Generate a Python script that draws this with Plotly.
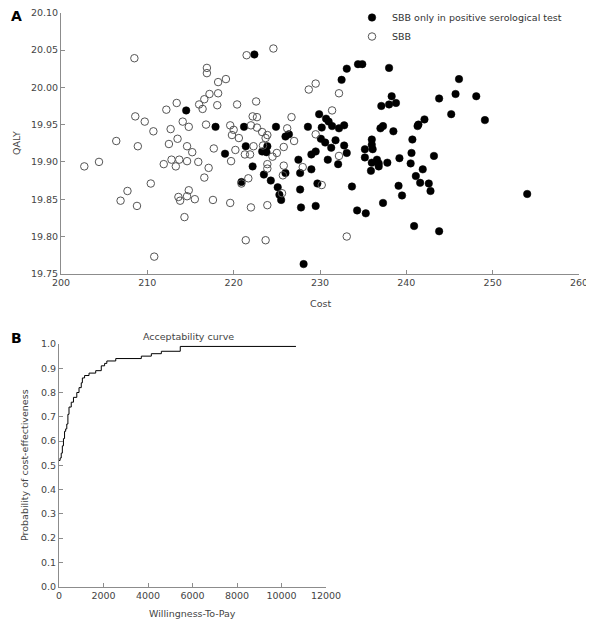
import plotly.graph_objects as go

# ---- Panel A: cost vs QALY ----
sbb_pos_cost = [214.5, 222.4, 217.9, 221.2, 224.9, 226.0, 226.4, 219.0, 221.4, 223.9, 223.3, 223.8,
                222.2, 223.5, 224.3, 220.9, 226.0, 225.1, 225.3, 225.5,
                234.4, 234.9, 233.1, 232.5, 228.6, 229.9, 230.7, 231.0, 231.4, 230.2, 232.2, 232.8,
                230.1, 230.6, 231.8, 231.3, 232.8, 233.1, 229.0, 229.5, 230.9, 232.1, 227.5,
                229.0, 227.7, 229.7, 233.7, 227.7, 227.8, 229.5, 234.3, 235.3, 228.1,
                238.0, 246.1, 238.3, 237.1, 238.0, 238.8, 243.8, 245.7, 248.1, 245.2, 249.1,
                237.0, 237.3, 238.5, 241.3, 241.4, 242.1, 236.0, 236.0, 236.1, 235.2, 235.2,
                240.7, 240.6, 240.5, 243.2, 236.6, 236.0, 236.8, 236.8, 237.8, 235.9, 239.2,
                241.1, 241.9, 239.1, 239.5, 241.6, 242.6, 242.8, 237.3, 240.9, 243.8, 254.0]
sbb_pos_qaly = [19.969, 20.044, 19.947, 19.947, 19.947, 19.934, 19.937, 19.911, 19.921, 19.921, 19.914, 19.913,
                19.894, 19.883, 19.875, 19.873, 19.885, 19.866, 19.856, 19.849,
                20.031, 20.031, 20.025, 20.010, 19.947, 19.964, 19.958, 19.954, 19.948, 19.946, 19.945, 19.949,
                19.931, 19.926, 19.929, 19.919, 19.922, 19.912, 19.910, 19.914, 19.903, 19.897, 19.903,
                19.890, 19.885, 19.871, 19.867, 19.863, 19.839, 19.841, 19.835, 19.831, 19.763,
                20.026, 20.011, 19.988, 19.975, 19.977, 19.979, 19.985, 19.991, 19.988, 19.964, 19.956,
                19.945, 19.948, 19.941, 19.948, 19.950, 19.957, 19.930, 19.923, 19.917, 19.917, 19.906,
                19.930, 19.912, 19.898, 19.908, 19.903, 19.899, 19.894, 19.898, 19.899, 19.888, 19.905,
                19.881, 19.890, 19.868, 19.855, 19.872, 19.871, 19.861, 19.845, 19.814, 19.807, 19.857]

sbb_cost = [208.5, 202.7, 204.4, 206.4, 208.6, 208.9, 209.7, 210.7, 207.7, 206.9, 208.8, 210.4,
            210.8, 212.2, 213.4, 216.0, 214.1, 214.8, 212.7, 213.5, 212.5, 214.6, 215.2, 212.8,
            213.7, 214.6, 211.9, 213.3, 215.9, 214.8, 213.6, 213.8, 214.6, 215.5, 214.3,
            221.5, 224.6, 216.9, 216.9, 218.2, 219.1, 217.2, 218.2, 216.6, 216.4, 218.1, 220.4,
            222.6, 216.8, 219.6, 220.0, 219.8, 220.6, 222.2, 222.7, 222.0, 222.7, 223.3, 223.9,
            223.7, 217.7, 220.2, 221.3, 221.9, 222.3, 223.4, 224.5, 225.0, 225.8, 219.7, 223.9,
            223.9, 225.8, 217.1, 216.6, 221.7, 220.9, 225.6, 217.6, 219.6, 222.0, 223.9, 221.4,
            223.7, 225.7, 229.5, 228.7, 232.2, 231.4, 226.7, 226.2, 229.5, 227.0, 232.2, 228.0,
            230.2, 233.1]
sbb_qaly = [20.039, 19.894, 19.900, 19.928, 19.961, 19.921, 19.954, 19.941, 19.861, 19.848, 19.841, 19.871,
            19.773, 19.970, 19.979, 19.977, 19.954, 19.947, 19.944, 19.931, 19.924, 19.921, 19.913, 19.903,
            19.903, 19.901, 19.897, 19.894, 19.900, 19.862, 19.853, 19.848, 19.854, 19.850, 19.826,
            20.043, 20.052, 20.026, 20.019, 20.007, 20.011, 19.991, 19.992, 19.984, 19.971, 19.976, 19.977,
            19.981, 19.950, 19.949, 19.943, 19.936, 19.932, 19.961, 19.960, 19.949, 19.946, 19.940, 19.936,
            19.932, 19.918, 19.916, 19.910, 19.910, 19.921, 19.922, 19.907, 19.912, 19.920, 19.901, 19.897,
            19.891, 19.895, 19.892, 19.879, 19.878, 19.871, 19.858, 19.849, 19.845, 19.839, 19.842, 19.795,
            19.795, 19.882, 20.005, 19.997, 19.992, 19.969, 19.960, 19.945, 19.937, 19.928, 19.908, 19.893,
            19.869, 19.800]

cost_ticks = [200, 210, 220, 230, 240, 250, 260]
qaly_ticks = [19.75, 19.80, 19.85, 19.90, 19.95, 20.00, 20.05, 20.10]

# ---- Panel B: acceptability curve ----
wtp = [0, 50, 100, 150, 200, 250, 300, 350, 400, 450, 550, 650, 800, 900, 1000, 1050, 1150,
       1350, 1650, 1900, 2050, 2150, 2550, 3700, 4150, 4600, 5450, 10650]
prob = [0.52, 0.53, 0.55, 0.58, 0.61, 0.64, 0.65, 0.67, 0.71, 0.74, 0.76, 0.78, 0.80, 0.82, 0.84,
        0.86, 0.87, 0.88, 0.89, 0.91, 0.92, 0.93, 0.94, 0.95, 0.96, 0.97, 0.99, 0.99]
wtp_ticks = [0, 2000, 4000, 6000, 8000, 10000, 12000]
prob_ticks = [0.0, 0.1, 0.2, 0.3, 0.4, 0.5, 0.6, 0.7, 0.8, 0.9, 1.0]

# page body has an 8px margin, so the figure is drawn 8px in from the window corner
OFF = 8
W, H = 594 - OFF, 623 - OFF
FONT = "DejaVu Sans"
AX = "#8c8c8c"
TXT = "#444444"

fig = go.Figure()
fig.add_trace(go.Scatter(x=sbb_pos_cost, y=sbb_pos_qaly, mode="markers",
                         name="SBB only in positive serological test",
                         marker=dict(symbol="circle", size=7.5, color="black",
                                     line=dict(color="black", width=0.5)),
                         xaxis="x", yaxis="y"))
fig.add_trace(go.Scatter(x=sbb_cost, y=sbb_qaly, mode="markers", name="SBB",
                         marker=dict(symbol="circle-open", size=7.5, color="#555555",
                                     line=dict(color="#555555", width=1)),
                         xaxis="x", yaxis="y"))
fig.add_trace(go.Scatter(x=wtp, y=prob, mode="lines", line=dict(color="black", width=1, shape="hv"),
                         showlegend=False, xaxis="x2", yaxis="y2"))

def px_x(p):
    return (p - OFF) / W

def px_y(p):
    return 1 - (p - OFF) / H

axcommon = dict(showgrid=False, zeroline=False, showline=True, linecolor=AX, linewidth=1,
                ticks="inside", ticklen=4, tickcolor=AX, tickwidth=1, automargin=False,
                ticklabeloverflow="allow",
                tickfont=dict(family=FONT, size=9.5, color=TXT))

fig.update_layout(
    width=W, height=H, margin=dict(l=0, r=0, t=0, b=0, autoexpand=False),
    paper_bgcolor="white", plot_bgcolor="white",
    font=dict(family=FONT, size=9.5, color=TXT),
    xaxis=dict(domain=[px_x(61), px_x(579)], range=[200, 260], tickvals=cost_ticks,
               anchor="y", **axcommon),
    yaxis=dict(domain=[px_y(273.8), px_y(12.7)], range=[19.75, 20.10], tickvals=qaly_ticks,
               tickformat=".2f", anchor="x", **axcommon),
    xaxis2=dict(domain=[px_x(59), px_x(326)], range=[0, 12000], tickvals=wtp_ticks,
                ticktext=[str(v) for v in wtp_ticks], anchor="y2", **axcommon),
    yaxis2=dict(domain=[px_y(586.5), px_y(344)], range=[0, 1.0], tickvals=prob_ticks,
                tickformat=".1f", anchor="x2", **axcommon),
    legend=dict(x=px_x(352), y=px_y(3), xanchor="left", yanchor="top",
                font=dict(family=FONT, size=9.5, color="#333333"),
                bgcolor="rgba(0,0,0,0)", tracegroupgap=0, itemwidth=30),
    showlegend=True,
)

ann = [
    dict(text="<b>A</b>", x=px_x(8.5), y=px_y(16), xanchor="left",
         font=dict(size=14, color="black", family=FONT)),
    dict(text="<b>B</b>", x=px_x(8.5), y=px_y(338), xanchor="left",
         font=dict(size=14, color="black", family=FONT)),
    dict(text="Cost", x=px_x(320), y=px_y(303)),
    dict(text="QALY", x=px_x(17), y=px_y(143), textangle=-90),
    dict(text="Acceptability curve", x=px_x(188), y=px_y(336)),
    dict(text="Willingness-To-Pay", x=px_x(192), y=px_y(613)),
    dict(text="Probability of cost-effectiveness", x=px_x(24), y=px_y(465), textangle=-90),
]
for a in ann:
    a.setdefault("font", dict(family=FONT, size=9.5, color=TXT))
    a.setdefault("xanchor", "center")
    fig.add_annotation(xref="paper", yref="paper", showarrow=False,
                       yanchor="middle", **a)

fig.write_html("out.html")
